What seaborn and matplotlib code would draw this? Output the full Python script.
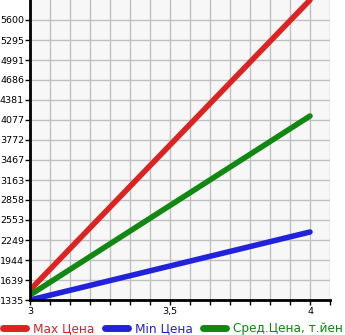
import matplotlib
matplotlib.use("Agg")
import matplotlib.pyplot as plt
import seaborn as sns
import pandas as pd
import numpy as np

x_vals = [3, 4]
max_price = [1487, 5905]
min_price = [1335, 2371]
avg_price = [1411, 4138]
series_names = ["Max Цена", "Min Цена", "Сред.Цена, т.йен"]
colors = ["#dd2222", "#2222dd", "#118811"]

y_min, y_max = 1335, 5905
y_ticks = [y_min + (y_max - y_min) / 15 * k for k in range(15)]
y_labels = [str(int(v)) for v in y_ticks]
x_ticks = [3 + k / 14 for k in range(16)]
x_labels = {3.0: "3", 3.5: "3,5", 4.0: "4"}

df = pd.DataFrame({
    "x": x_vals * 3,
    "y": max_price + min_price + avg_price,
    "s": [series_names[0]] * 2 + [series_names[1]] * 2 + [series_names[2]] * 2,
})

sns.set_style("white")
plt.rcParams["font.family"] = ["DejaVu Sans"]

fig = plt.figure(figsize=(3.45, 3.35), dpi=100)
ax = fig.add_axes([30 / 345, 35 / 335, 300 / 345, 300 / 335])
ax.set_facecolor("#f7f7f7")

sns.lineplot(data=df, x="x", y="y", hue="s", palette=colors, ax=ax,
             linewidth=4, legend=False, solid_capstyle="round")

ax.set_xlim(3, 3 + 15 / 14)
ax.set_ylim(y_min, y_max)
ax.set_yticks(y_ticks)
ax.set_yticklabels(y_labels)
ax.set_xticks(x_ticks)
ax.set_xticklabels([x_labels.get(round(t, 6), "") for t in x_ticks])
ax.grid(True, color="#c0c0c0", linewidth=1)
ax.set_axisbelow(True)
ax.set_xlabel("")
ax.set_ylabel("")
for side in ["top", "right"]:
    ax.spines[side].set_visible(False)
ax.spines["left"].set_color("black")
ax.spines["left"].set_linewidth(2)
ax.spines["bottom"].set_color("black")
ax.spines["bottom"].set_linewidth(2)
ax.tick_params(axis="both", which="both", direction="out", length=3.5, width=1,
               color="black", labelcolor="black", labelsize=6.8, pad=1.5,
               left=True, bottom=True)
ax.tick_params(axis="y", pad=0.8)

handles = [plt.Line2D([0], [0], color=c, linewidth=5, solid_capstyle="round") for c in colors]
leg = fig.legend(handles, series_names, loc="lower left", bbox_to_anchor=(-0.012, -0.022),
                 ncol=3, frameon=False, fontsize=8.7, handlelength=1.9,
                 handletextpad=0.55, columnspacing=0.9, borderaxespad=0.2)
for t, c in zip(leg.get_texts(), colors):
    t.set_color(c)

fig.savefig("out.png", dpi=100)
